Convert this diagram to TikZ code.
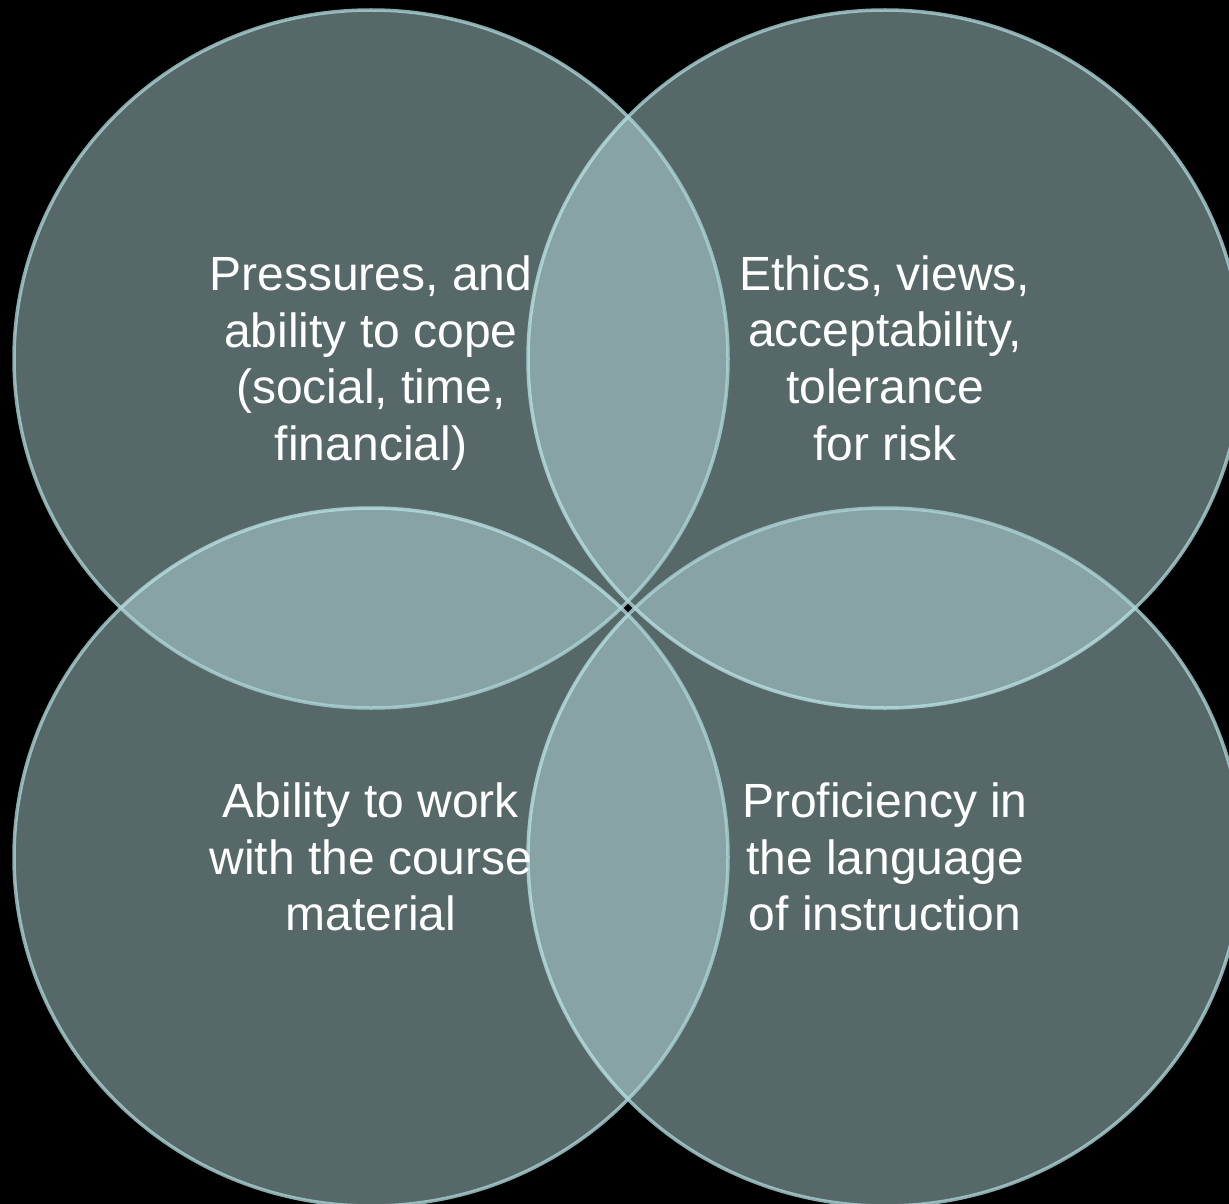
\documentclass[tikz,border=0pt]{standalone}
\usepackage{fontspec}
\setmainfont{Liberation Sans}
\usepackage{xcolor}
\usepackage{tikz}
\definecolor{vennfill}{RGB}{198,239,239}
\definecolor{vennline}{RGB}{172,212,214}
\tikzset{
	venn/.style={
			fill=vennfill, fill opacity=0.44,
			draw=vennline, draw opacity=0.8, line width=3.5pt
		},
	venntext/.style={
			text=white, align=center,
			font=\fontsize{48}{56.7}\selectfont
		}
}

\begin{document}
\begin{tikzpicture}[x=1pt,y=-1pt]
        \fill[black] (0,0) rectangle (1229,1204);
        \useasboundingbox (0,0) rectangle (1229,1204);
        \coordinate (c_TL) at (371, 359);
        \coordinate (c_TR) at (885, 359);
        \coordinate (c_BL) at (371, 857);
        \coordinate (c_BR) at (885, 857);
        \filldraw[venn] (c_TR) ellipse [x radius=357pt, y radius=349pt];
        \filldraw[venn] (c_BR) ellipse [x radius=357pt, y radius=349pt];
        \filldraw[venn] (c_BL) ellipse [x radius=357pt, y radius=349pt];
        \filldraw[venn] (c_TL) ellipse [x radius=357pt, y radius=349pt];
        \node[venntext,yshift=-4pt] (t_TL) at (c_TL) {Pressures, and\\ability to cope\\(social, time,\\financial)};
        \node[venntext,yshift=1pt] (t_TR) at (c_TR) {Ethics, views,\\acceptability,\\tolerance\\for risk};
        \node[venntext] (t_BL) at (c_BL) {Ability to work\\with the course\\material};
        \node[venntext] (t_BR) at (c_BR) {Proficiency in\\the language\\of instruction};
    \end{tikzpicture}
\end{document}
